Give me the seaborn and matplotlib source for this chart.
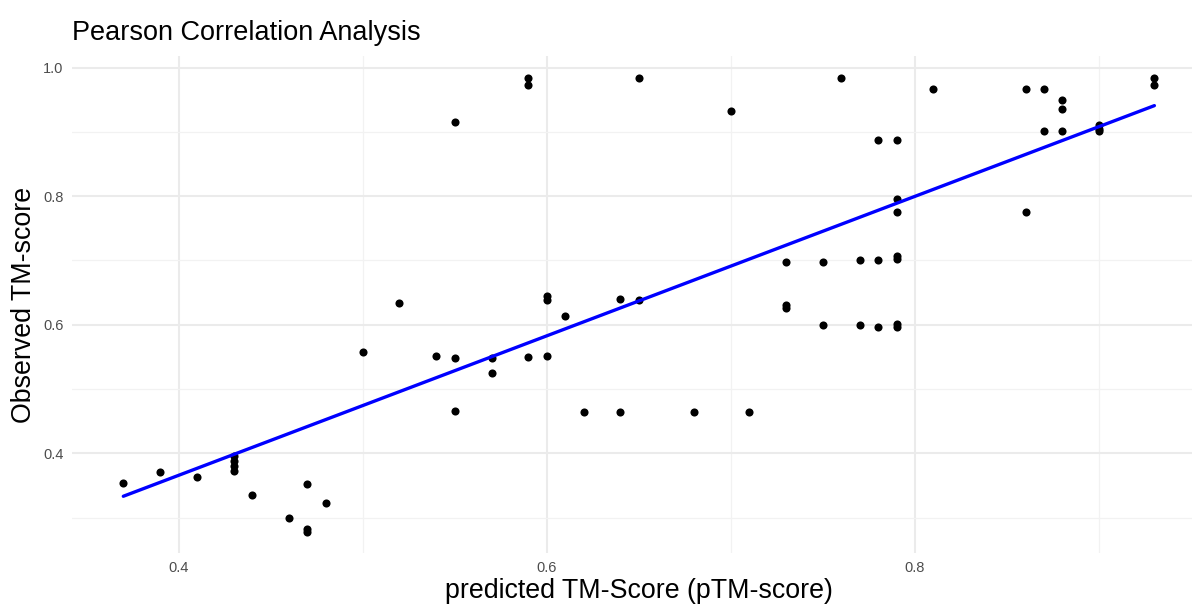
import matplotlib
matplotlib.use("Agg")
import matplotlib.pyplot as plt
import seaborn as sns
import pandas as pd
import numpy as np

# ---- data ----
ptm = [0.37, 0.39, 0.41, 0.43, 0.43, 0.43, 0.43, 0.44, 0.46, 0.47, 0.47, 0.47, 0.48,
       0.50, 0.52, 0.54, 0.55, 0.55, 0.55, 0.57, 0.57, 0.59, 0.59, 0.59,
       0.60, 0.60, 0.60, 0.61, 0.62, 0.64, 0.64, 0.65, 0.65, 0.68, 0.70, 0.71,
       0.73, 0.73, 0.73, 0.75, 0.75, 0.76, 0.77, 0.77, 0.78, 0.78, 0.78,
       0.79, 0.79, 0.79, 0.79, 0.79, 0.79, 0.79, 0.81, 0.86, 0.86, 0.87, 0.87,
       0.88, 0.88, 0.88, 0.90, 0.90, 0.90, 0.93, 0.93]
tm = [0.354, 0.371, 0.363, 0.396, 0.388, 0.380, 0.372, 0.335, 0.300, 0.352, 0.282, 0.277, 0.322,
      0.557, 0.634, 0.551, 0.915, 0.548, 0.466, 0.548, 0.525, 0.984, 0.973, 0.550,
      0.644, 0.639, 0.552, 0.613, 0.465, 0.640, 0.465, 0.984, 0.639, 0.465, 0.933, 0.465,
      0.697, 0.631, 0.626, 0.697, 0.599, 0.984, 0.701, 0.599, 0.887, 0.701, 0.596,
      0.887, 0.795, 0.775, 0.707, 0.702, 0.601, 0.597, 0.967, 0.967, 0.775, 0.967, 0.902,
      0.950, 0.936, 0.902, 0.910, 0.905, 0.902, 0.984, 0.973]

x_ticks = [0.4, 0.6, 0.8]
x_minor = [0.5, 0.7, 0.9]
y_ticks = [0.4, 0.6, 0.8, 1.0]
y_minor = [0.3, 0.5, 0.7, 0.9]

title = "Pearson Correlation Analysis"
x_label = "predicted TM-Score (pTM-score)"
y_label = "Observed TM-score"

df = pd.DataFrame({"pTM": ptm, "TM": tm})

sns.set_theme(style="white")
plt.rcParams["font.family"] = ["Liberation Sans", "DejaVu Sans"]

fig = plt.figure(figsize=(11.92, 6.05), dpi=100)
ax = fig.add_axes([0.0602, 0.086, 0.9515, 0.8214])

sns.regplot(data=df, x="pTM", y="TM", ax=ax, ci=None, truncate=True,
            scatter_kws=dict(s=34, color="black", alpha=1, linewidths=0, zorder=3),
            line_kws=dict(color="#0000ff", lw=2.4, zorder=4))

ax.set_xlim(0.342, 0.958)
ax.set_ylim(0.245, 1.018)

ax.set_xticks(x_ticks)
ax.set_xticklabels([f"{v:.1f}" for v in x_ticks])
ax.set_yticks(y_ticks)
ax.set_yticklabels([f"{v:.1f}" for v in y_ticks])
ax.set_xticks(x_minor, minor=True)
ax.set_yticks(y_minor, minor=True)

ax.grid(True, which="major", color="#ebebeb", lw=1.5, zorder=0)
ax.grid(True, which="minor", color="#f2f2f2", lw=0.9, zorder=0)
ax.set_axisbelow(True)
for s in ax.spines.values():
    s.set_visible(False)

ax.tick_params(axis="both", which="both", length=0, labelsize=10.5, labelcolor="#4d4d4d")
ax.tick_params(axis="x", pad=6)
ax.tick_params(axis="y", pad=6)

ax.set_xlabel(x_label, fontsize=19.3, color="black", labelpad=2)
ax.set_ylabel(y_label, fontsize=19.3, color="black", labelpad=4)
ax.set_title(title, fontsize=19.5, color="black", loc="left", pad=11.5)

fig.savefig("out.png", dpi=100)
